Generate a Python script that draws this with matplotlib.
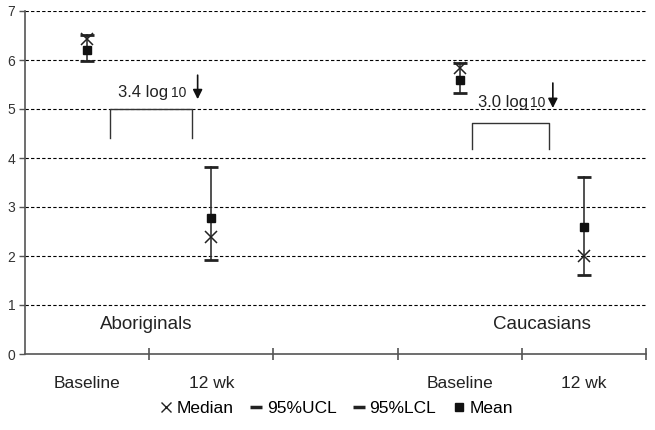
import matplotlib
matplotlib.use("Agg")
import matplotlib.pyplot as plt
from matplotlib.lines import Line2D

categories = ["Baseline", "12 wk", "", "Baseline", "12 wk"]
data_pos = [0, 1, 3, 4]
median = [6.42, 2.39, 5.84, 2.00]
ucl = [6.51, 3.82, 5.93, 3.61]
lcl = [5.97, 1.92, 5.33, 1.61]
mean = [6.20, 2.78, 5.59, 2.59]
y_ticks = [0, 1, 2, 3, 4, 5, 6, 7]
legend_labels = ["Median", "95%UCL", "95%LCL", "Mean"]
group_labels = ["Aboriginals", "Caucasians"]
reductions = ["3.4 log", "3.0 log"]

plt.rcParams['font.family'] = ['Liberation Sans', 'DejaVu Sans']

fig = plt.figure(figsize=(6.55, 4.30), dpi=100)
ax = fig.add_axes([25/655, 1-354/430, (646-25)/655, (354-11)/430])

ax.set_xlim(-0.5, 4.5)
ax.set_ylim(0, 7)

# gridlines
for y in y_ticks[1:]:
    ax.axhline(y, color='black', lw=0.8, ls=(0, (3, 2)), zorder=0)

# hi-lo lines with caps
for x, lo, hi in zip(data_pos, lcl, ucl):
    ax.plot([x, x], [lo, hi], color='#333333', lw=1.2, zorder=2)
    ax.plot([x], [hi], marker='_', ms=10, mew=2.0, color='#222222', zorder=3)
    ax.plot([x], [lo], marker='_', ms=10, mew=2.0, color='#222222', zorder=3)

ax.plot(data_pos, mean, ls='none', marker='s', ms=6, color='#111111', zorder=4)
ax.plot(data_pos, median, ls='none', marker='x', ms=9, mew=1.1, color='#222222', zorder=4)

# annotations: brackets, arrows, text
br = [((0.184, 0.843), (5.0, 4.4)), ((3.096, 3.72), (4.71, 4.18))]
for (x0, x1), (ytop, ybot) in br:
    ax.plot([x0, x0, x1, x1], [ybot, ytop, ytop, ybot], color='#333333', lw=1.0)

arrows = [(0.89, 5.69, 5.20), (3.75, 5.53, 5.02)]
for x, y0, y1 in arrows:
    ax.annotate('', xy=(x, y1), xytext=(x, y0),
                arrowprops=dict(arrowstyle='-|>', color='#111111', lw=1.2,
                                mutation_scale=14, shrinkA=0, shrinkB=0))

txt_pos = [(0.248, 0.672, 5.25), (3.144, 3.565, 5.05)]
for (xa, xb, yb), t in zip(txt_pos, reductions):
    ax.text(xa, yb, t, fontsize=12, color='#222222', va='baseline', ha='left')
    ax.text(xb, yb, "10", fontsize=10, color='#222222', va='baseline', ha='left')

ax.text(0.48, 0.6, group_labels[0], fontsize=13.5, color='#222222', ha='center', va='center')
ax.text(3.66, 0.6, group_labels[1], fontsize=13.5, color='#222222', ha='center', va='center')

# axes styling
for s in ['top', 'right']:
    ax.spines[s].set_visible(False)
for s in ['left', 'bottom']:
    ax.spines[s].set_color('#555555')
    ax.spines[s].set_linewidth(1.2)

ax.set_yticks(y_ticks)
ax.set_yticklabels([str(v) for v in y_ticks], fontsize=10, color='#333333')
ax.tick_params(axis='y', length=4, width=1, color='#555555', pad=3)

ax.set_xticks(range(len(categories)))
ax.set_xticklabels(categories, fontsize=12.5, color='#222222')
ax.tick_params(axis='x', which='major', length=0, pad=16)
ax.set_xticks([0.5, 1.5, 2.5, 3.5, 4.5], minor=True)
ax.tick_params(axis='x', which='minor', direction='inout', length=9, width=1.2, color='#555555')

handles = [
    Line2D([], [], ls='none', marker='x', ms=7, mew=1.0, color='#222222'),
    Line2D([], [], ls='none', marker='_', ms=8, mew=2.5, color='#222222'),
    Line2D([], [], ls='none', marker='_', ms=8, mew=2.5, color='#222222'),
    Line2D([], [], ls='none', marker='s', ms=6, color='#111111'),
]
fig.legend(handles, legend_labels, loc='center', bbox_to_anchor=(337/655, 1-408/430),
           ncol=4, frameon=False, fontsize=12.5, handlelength=0.6, handletextpad=0.3,
           columnspacing=1.0)

fig.savefig("out.png", dpi=100)
